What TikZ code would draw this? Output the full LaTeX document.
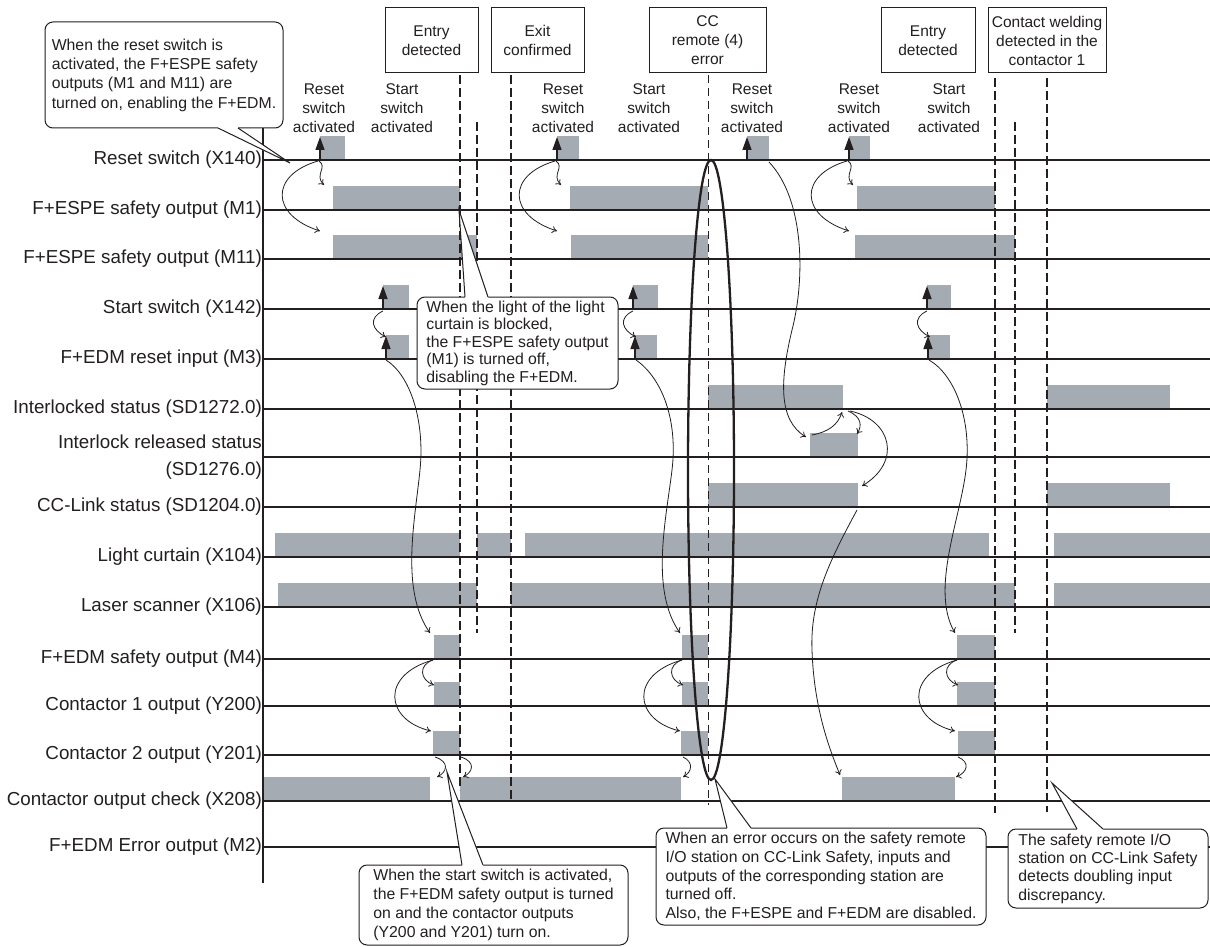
\documentclass[tikz,border=0pt]{standalone}
\usepackage{fontspec}
\setmainfont{Liberation Sans}
\usetikzlibrary{arrows.meta,calc}
\definecolor{ink}{RGB}{35,31,32}
\definecolor{pulse}{RGB}{165,171,178}
\tikzset{
  sig/.style={line width=1.2pt, draw=ink},
  lab/.style={anchor=east, inner sep=0pt, font=\fontsize{18.8}{22}\selectfont, text=ink},
  evt/.style={align=center, inner sep=0pt, font=\fontsize{15.5}{19}\selectfont, text=ink},
  evbox/.style={draw=ink, line width=1pt, fill=white, align=center, inner sep=0pt, font=\fontsize{15.5}{19}\selectfont, text=ink, minimum height=65pt},
  callout/.style={draw=ink, line width=1pt, fill=white, rounded corners=8pt, align=left, inner sep=0pt, text=ink},
  thickdash/.style={draw=ink, line width=1.8pt, dash pattern=on 9pt off 4pt},
  thindash/.style={draw=ink, line width=0.9pt, dash pattern=on 8pt off 5pt},
  flow/.style={draw=ink, line width=0.8pt, -{To[length=5pt,width=7pt]}},
  trig/.style={draw=ink, line width=1.4pt, -{Triangle[length=13pt,width=9pt]}},
}
\begin{document}
\begin{tikzpicture}[x=1pt,y=-1pt]
\useasboundingbox (0,0) rectangle (1210,947);
\fill[white] (0,0) rectangle (1210,947);

% pulses
\foreach \a/\b/\y in {
  320/345/160, 557/579/160, 747/769/160, 849/870/160,
  333/460/210, 570/708/210, 857/995/210,
  333/477/259, 571/708/259, 855/1015/259,
  383/409/309, 633/658/309, 927/951/309,
  386/409/359, 635/657/359, 928/950/359,
  708/843/409, 1047/1170/409,
  810/858/457,
  708/858/507, 1047/1170/507,
  275/460/557, 477/511/557, 525/989/557, 1054/1210/557,
  278/477/607, 511/1015/607, 1054/1210/607,
  434/460/659, 682/708/659, 957/995/659,
  434/460/706, 682/708/706, 957/995/706,
  433/460/755, 681/708/755, 958/995/755,
  263/430/801, 460/681/801, 842/955/801}
  \fill[pulse] (\a,\y-24) rectangle (\b,\y);

% signal lines
\foreach \y in {160,210,259,309,359,409,457,507,557,607,659,706,755,801,847}
  \draw[sig] (263,\y) -- (1210,\y);
\draw[draw=ink, line width=1.5pt] (263,128) -- (263,883);

% labels
\node[lab] (l1) at (262,160) {Reset switch (X140)};
\node[lab] (l2) at (262,210) {F+ESPE safety output (M1)};
\node[lab] (l3) at (262,259) {F+ESPE safety output (M11)};
\node[lab] (l4) at (262,309) {Start switch (X142)};
\node[lab] (l5) at (262,359) {F+EDM reset input (M3)};
\node[lab] (l6) at (262,409) {Interlocked status (SD1272.0)};
\node[lab, align=right, font=\fontsize{18.8}{27}\selectfont] (l7) at (262,457) {Interlock released status\\(SD1276.0)};
\node[lab] (l8) at (262,507) {CC-Link status (SD1204.0)};
\node[lab] (l9) at (262,557) {Light curtain (X104)};
\node[lab] (l10) at (262,607) {Laser scanner (X106)};
\node[lab] (l11) at (262,659) {F+EDM safety output (M4)};
\node[lab] (l12) at (262,706) {Contactor 1 output (Y200)};
\node[lab] (l13) at (262,755) {Contactor 2 output (Y201)};
\node[lab] (l14) at (262,801) {Contactor output check (X208)};
\node[lab] (l15) at (262,847) {F+EDM Error output (M2)};

% event boxes
\node[evbox, minimum width=93pt] (e1) at (431.5,40.5) {Entry\\detected};
\node[evbox, minimum width=93pt] (e2) at (537.5,40.5) {Exit\\confirmed};
\node[evbox, minimum width=117pt] (e3) at (707.5,40.5) {CC\\remote (4)\\error};
\node[evbox, minimum width=94pt] (e4) at (928,40.5) {Entry\\detected};
\node[evbox, minimum width=118pt] (e5) at (1047,40.5) {Contact welding\\detected in the\\contactor 1};

% dashed event lines
\draw[thickdash] (460,75) -- (460,790);
\draw[thickdash] (477,122) -- (477,633);
\draw[thickdash] (511,75) -- (511,800);
\draw[thindash] (708,75) -- (708,805);
\draw[thickdash] (995,78) -- (995,813);
\draw[thickdash] (1015,122) -- (1015,633);
\draw[thickdash] (1047,78) -- (1047,812);

% event labels
\node[evt] (t1) at (324,108) {Reset\\switch\\activated};
\node[evt] (t2) at (402,108) {Start\\switch\\activated};
\node[evt] (t3) at (563,108) {Reset\\switch\\activated};
\node[evt] (t4) at (649,108) {Start\\switch\\activated};
\node[evt] (t5) at (752,108) {Reset\\switch\\activated};
\node[evt] (t6) at (859,108) {Reset\\switch\\activated};
\node[evt] (t7) at (949,108) {Start\\switch\\activated};

% trigger arrows
\foreach \x/\y in {320/160, 557/160, 747/160, 849/160, 383/309, 633/309, 927/309, 386/359, 635/359, 928/359}
  \draw[trig] (\x,\y) -- (\x,\y-23);

% reset -> M1 / M11
\foreach \s in {0,237,529}{
  \begin{scope}[xshift=\s]
  \draw[flow] (319,161) .. controls (328,167) and (314,175) .. (324,185);
  \draw[flow] (318,161) .. controls (270,175) and (270,215) .. (320,231);
  \end{scope}}
% start -> M3
\foreach \s in {0,250,544}{
  \begin{scope}[xshift=\s]
  \draw[flow] (383,311) .. controls (368,318) and (372,330) .. (386,337);
  \end{scope}}
% M3 -> M4
\draw[flow] (386,360) .. controls (410,375) and (425,420) .. (420,470) .. controls (415,520) and (400,590) .. (430,633);
\draw[flow] (636,360) .. controls (662,378) and (678,420) .. (672,470) .. controls (666,520) and (650,590) .. (680,633);
\draw[flow] (929,360) .. controls (955,375) and (972,420) .. (966,470) .. controls (960,520) and (930,590) .. (955,633);
% M4 -> contactors
\foreach \s in {0,249,524}{
  \begin{scope}[xshift=\s]
  \draw[flow] (433,660) .. controls (418,665) and (420,680) .. (434,685);
  \draw[flow] (433,660) .. controls (380,675) and (385,720) .. (431,731);
  \end{scope}}
% contactor 2 -> output check
\draw[flow] (435,757) .. controls (450,762) and (447,772) .. (437,777);
\draw[flow] (461,757) .. controls (476,762) and (473,772) .. (463,777);
\draw[flow] (683,757) .. controls (694,762) and (692,772) .. (683,777);
\draw[flow] (958,757) .. controls (970,762) and (968,772) .. (956,777);
% reset -> interlock released
\draw[flow] (769,162) .. controls (805,200) and (805,280) .. (792,330) .. controls (780,380) and (778,420) .. (806,437);
\draw[flow] (812,435) .. controls (828,432) and (838,425) .. (842,412);
\draw[flow] (848,411) .. controls (862,417) and (862,426) .. (857,434);
\draw[flow] (850,411) .. controls (892,420) and (902,462) .. (862,486);
% CC-Link -> output check
\draw[flow] (857,510) .. controls (830,560) and (810,600) .. (812,650) .. controls (814,710) and (830,750) .. (840,775);

% error loop
\draw[draw=ink, line width=2.3pt] (711,470) ellipse [x radius=23pt, y radius=310pt];

% callouts
\node[callout, minimum width=238pt, minimum height=106pt, font=\fontsize{15.8}{19.3}\selectfont] (c1) at (164,75)
  {When the reset switch is\\activated, the F+ESPE safety\\outputs (M1 and M11) are\\turned on, enabling the F+EDM.};
\fill[white] (218,126) -- (218,129) -- (290,163) -- (238,129) -- (238,126) -- cycle;
\draw[draw=ink, line width=1pt] (218,128) -- (290,163) -- (238,128);

\node[callout, minimum width=201pt, minimum height=92pt, font=\fontsize{15.8}{17.5}\selectfont] (c2) at (517.5,343)
  {When the light of the light\\curtain is blocked,\\the F+ESPE safety output\\(M1) is turned off,\\disabling the F+EDM.};
\fill[white] (465,299) -- (465,296) -- (459,210) -- (488,296) -- (488,299) -- cycle;
\draw[draw=ink, line width=1pt] (465,297) -- (459,210) -- (488,297);

\node[callout, minimum width=269pt, minimum height=80pt, font=\fontsize{15.8}{19}\selectfont] (c3) at (493.5,905)
  {When the start switch is activated,\\the F+EDM safety output is turned\\on and the contactor outputs\\(Y200 and Y201) turn on.};
\fill[white] (462,867) -- (462,864) -- (447,772) -- (483,864) -- (483,867) -- cycle;
\draw[draw=ink, line width=1pt] (462,865) -- (447,772) -- (483,865);

\node[callout, minimum width=330pt, minimum height=97pt, font=\fontsize{15.8}{18.75}\selectfont] (c4) at (821,876.5)
  {When an error occurs on the safety remote\\I/O station on CC-Link Safety, inputs and\\outputs of the corresponding station are\\turned off.\\Also, the F+ESPE and F+EDM are disabled.};
\fill[white] (727,830) -- (727,827) -- (715,779) -- (751,827) -- (751,830) -- cycle;
\draw[draw=ink, line width=1pt] (727,828) -- (715,779) -- (751,828);

\node[callout, minimum width=200pt, minimum height=79pt, font=\fontsize{15.8}{18.3}\selectfont] (c5) at (1108,868.5)
  {The safety remote I/O\\station on CC-Link Safety\\detects doubling input\\discrepancy.};
\fill[white] (1077,831) -- (1077,828) -- (1052,783) -- (1103,828) -- (1103,831) -- cycle;
\draw[draw=ink, line width=1pt] (1077,829) -- (1052,783) -- (1103,829);
\end{tikzpicture}
\end{document}
